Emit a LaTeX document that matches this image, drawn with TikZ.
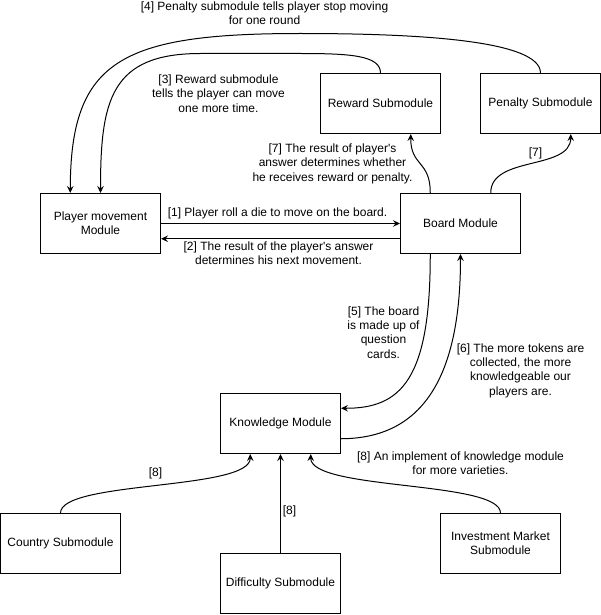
\documentclass[tikz,border=0pt]{standalone}
\usepackage{fontspec}
\setmainfont{Liberation Sans}
\usetikzlibrary{arrows.meta,calc}
\begin{document}
\begin{tikzpicture}[x=1pt,y=-1pt,
  box/.style={draw,line width=1pt,minimum width=120pt,minimum height=60pt,inner sep=2pt,align=center,font=\fontsize{12}{14.4}\selectfont},
  lbl/.style={align=center,inner sep=0pt,font=\fontsize{12}{14.4}\selectfont},
  flow/.style={draw,line width=1pt,-{Stealth[length=7pt,width=6.5pt,inset=2.5pt]}}]
\useasboundingbox (-0.5,-0.5) rectangle (600.5,614.5);

% modules
\node[box] (reward)  at (380,103) {Reward Submodule};
\node[box] (penalty) at (540,103) {Penalty Submodule};
\node[box] (player)  at (100,223) {Player movement\\Module};
\node[box] (board)   at (460,223) {Board Module};
\node[box] (know)    at (280,423) {Knowledge Module};
\node[box] (country) at (60,543)  {Country Submodule};
\node[box] (diff)    at (280,583) {Difficulty Submodule};
\node[box] (invest)  at (500,543) {Investment Market\\Submodule};

% player <-> board
\draw[flow] (player.east) -- (board.west);
\draw[flow] ($(board.north west)!0.75!(board.south west)$) -- ($(player.north east)!0.75!(player.south east)$);

% reward / penalty back to the player
\draw[flow] (reward.north) .. controls (380,55) and (350,53) .. (300,53) -- (200,53)
  .. controls (110,53) and (100,100) .. (player.north);
\draw[flow] (penalty.north) .. controls (540,40) and (420,33) .. (300,33)
  .. controls (120,33) and (70,60) .. ($(player.north west)!0.25!(player.north east)$);

% board to reward / penalty
\draw[flow] ($(board.north west)!0.25!(board.north east)$) .. controls (430,160) and (410,166) .. ($(reward.south west)!0.75!(reward.south east)$);
\draw[flow] ($(board.north west)!0.75!(board.north east)$) .. controls (490,155) and (570,170) .. ($(penalty.south west)!0.75!(penalty.south east)$);

% board <-> knowledge
\draw[flow] ($(board.south west)!0.25!(board.south east)$) .. controls (430,380) and (400,408) .. ($(know.north east)!0.25!(know.south east)$);
\draw[flow] ($(know.north east)!0.75!(know.south east)$) .. controls (420,438) and (460,380) .. (board.south);

% submodules of the knowledge module
\draw[flow] (country.north) .. controls (60,480) and (250,490) .. ($(know.south west)!0.25!(know.south east)$);
\draw[flow] (diff.north) -- (know.south);
\draw[flow] (invest.north) .. controls (500,480) and (310,490) .. ($(know.south west)!0.75!(know.south east)$);

% labels
\node[lbl] (l1) at (277,213) {[1] Player roll a die to move on the board.};
\node[lbl] (l2) at (278,253) {[2] The result of the player\textquotesingle s answer\\determines his next movement.};
\node[lbl] (l3) at (218,93)  {[3] Reward submodule\\tells the player can move\\one more time.};
\node[lbl] (l4) at (264,13)  {[4] Penalty submodule tells player stop moving\\for one round};
\node[lbl] (l7a) at (332,163) {[7] The result of player\textquotesingle s\\answer determines whether\\he receives reward or penalty.};
\node[lbl] (l7b) at (535,153) {[7]};
\node[lbl] (l5) at (383,332) {[5] The board\\is made up of\\question\\cards.};
\node[lbl] (l6) at (520,370) {[6] The more tokens are\\collected, the more\\knowledgeable our\\players are.};
\node[lbl] (l8a) at (155,473) {[8]};
\node[lbl] (l8b) at (289,511) {[8]};
\node[lbl] (l8c) at (460,463) {[8] An implement of knowledge module\\for more varieties.};
\end{tikzpicture}
\end{document}
